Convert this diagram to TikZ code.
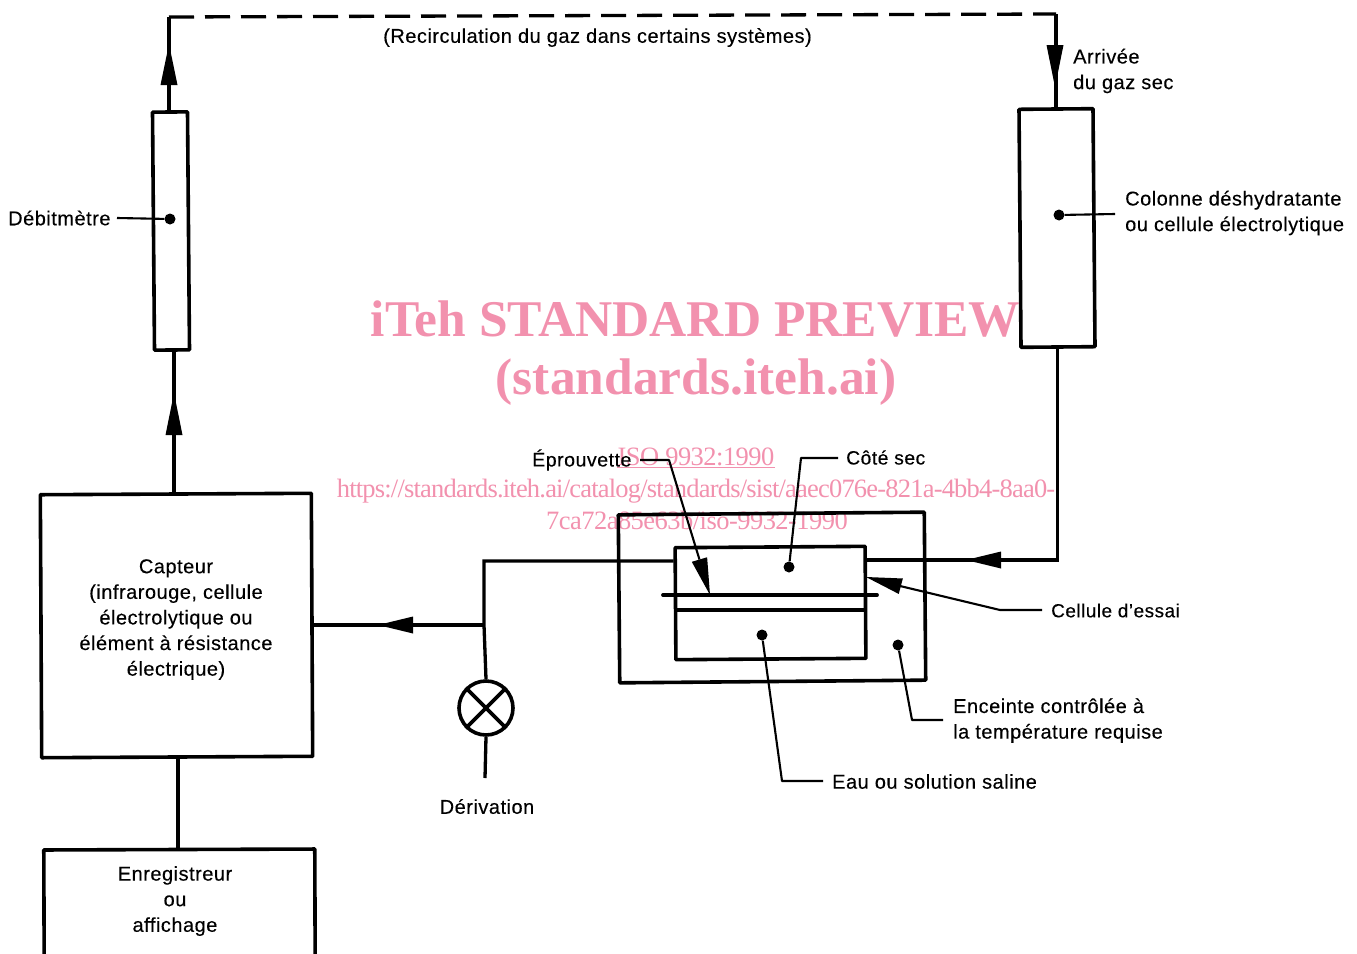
\documentclass[tikz,border=0pt]{standalone}
\usepackage{fontspec}
\setmainfont[LetterSpace=2.5,FakeBold=0.25]{Liberation Sans}
\newfontfamily\wmfont{Liberation Serif}
\newfontfamily\wmtight[LetterSpace=-3]{Liberation Serif}
\newfontfamily\wmloose[LetterSpace=-2]{Liberation Serif}
\usetikzlibrary{arrows.meta}
\definecolor{wmpink}{HTML}{F291AE}
\tikzset{
  x=1pt,y=-1pt,
  vessel/.style={draw=black,line width=3.6pt,rectangle,inner sep=0pt,line join=round},
  pipe/.style={draw=black,line width=3.3pt,line join=miter},
  leader/.style={draw=black,line width=2.1pt,line join=round},
  flow/.style={draw=black,line width=3.3pt,-{Triangle[length=#1,width=17pt,line width=0pt]},shorten >=0pt},
  flow/.default=38pt,
  dot/.style={circle,fill=black,inner sep=0pt,minimum size=11pt},
  lbl/.style={font=\fontsize{20}{25.6}\selectfont,inner sep=0pt,align=left,text=black},
  lblc/.style={font=\fontsize{20}{25.6}\selectfont,inner sep=0pt,align=center,text=black},
  wmb/.style={font=\wmfont\bfseries\fontsize{51.5}{58}\selectfont,text=wmpink,inner sep=0pt},
  wms/.style={font=\wmtight\fontsize{26.5}{30}\selectfont,text=wmpink,inner sep=0pt},
  wmt/.style={font=\wmloose\fontsize{26.5}{30}\selectfont,text=wmpink,inner sep=0pt},
}
\begin{document}
\begin{tikzpicture}
\useasboundingbox (0,0) rectangle (1357,953);
\clip (0,0) rectangle (1357,953);
% watermark
\node[wmb] (wm1) at (695.5,319) {iTeh STANDARD PREVIEW};
\node[wmb] (wm2) at (696,382) {(standards.iteh.ai)};
\node[wmt] (wm3) at (696,457) {ISO 9932:1990};
\draw[wmpink,line width=1.2pt] ([yshift=-2pt]wm3.base west) -- ([yshift=-2pt]wm3.base east);
\node[wms] (wm4) at (696,491) {https://standards.iteh.ai/catalog/standards/sist/aaec076e-821a-4bb4-8aa0-};
\node[wmt] (wm5) at (697,520) {7ca72a85e63b/iso-9932-1990};
% vessels
\node[vessel,minimum width=35pt,minimum height=238pt,rotate=0.48] (debit) at (171,231) {};
\node[vessel,minimum width=74pt,minimum height=238pt,rotate=0.48] (colonne) at (1057,228) {};
\node[vessel,minimum width=271pt,minimum height=263pt,rotate=0.3] (capteur) at (176.5,625.5) {};
\node[vessel,minimum width=271pt,minimum height=125pt,rotate=0.2] (enreg) at (179.5,912) {};
\node[vessel,minimum width=306pt,minimum height=168pt,rotate=0.5] (enceinte) at (772,597.5) {};
\node[vessel,minimum width=190pt,minimum height=112pt,rotate=0.4] (cellule) at (770.5,603) {};
\node[circle,draw=black,line width=3.6pt,minimum size=54pt,inner sep=0pt] (deriv) at (486,708) {};
\draw[line width=3.6pt] (deriv.45) -- (deriv.225) (deriv.135) -- (deriv.315);
% specimen and water level
\coordinate (spL) at (663,595); \coordinate (spR) at (877,595);
\coordinate (wL) at (676,610); \coordinate (wR) at (865,610);
\draw[line width=3.8pt,line cap=round] (spL) -- (spR);
\draw[line width=3.2pt] (wL) -- (wR);
% coordinates
\coordinate (j1) at (484,561);
\coordinate (j2) at (484,625);
\coordinate (derEnd) at (485,778);
\coordinate (tr) at (1057.5,560);
\coordinate (topL) at (169,17);
\coordinate (topR) at (1056,14);
% pipes
\draw[pipe] (cellule.west |- j1) -- (j1) -- (j2) -- (deriv.north);
\draw[pipe] (deriv.south) -- (derEnd);
\draw[pipe] (313,625) coordinate (capE) -- (j2);
\draw[pipe] (1057.5,347) coordinate (colS) -- (tr) -- (865,560) coordinate (celE);
\draw[pipe] (174,493) coordinate (capN) -- (174,350) coordinate (debS);
\draw[pipe] (169,112) coordinate (debN) -- (topL);
\draw[pipe] (178,758) coordinate (capS) -- (178,849) coordinate (enrN);
\draw[line width=3.3pt,dash pattern=on 25pt off 11pt] (topL) -- (topR);
\draw[pipe] (topR) -- (1056,108) coordinate (colN);
% arrowheads
\coordinate (a1b) at (413,625); \coordinate (a1t) at (378,625);
\coordinate (a2b) at (1001,560); \coordinate (a2t) at (966,560);
\coordinate (a3b) at (174,435); \coordinate (a3t) at (174,393);
\coordinate (a4b) at (169,85); \coordinate (a4t) at (169,44);
\coordinate (a5b) at (1055,45); \coordinate (a5t) at (1055,87);
\draw[flow=35pt] (a1b) -- (a1t);
\draw[flow=35pt] (a2b) -- (a2t);
\draw[flow=42pt] (a3b) -- (a3t);
\draw[flow=41pt] (a4b) -- (a4t);
\draw[flow=42pt] (a5b) -- (a5t);
% dots
\node[dot] (dDeb) at (170,219) {};
\node[dot] (dCol) at (1059,215) {};
\node[dot] (dCote) at (789,567) {};
\node[dot] (dEau) at (762,635) {};
\node[dot] (dEnc) at (898,645) {};
% labels
\node[lbl,anchor=center] (tRec) at (597.5,37.5) {(Recirculation du gaz dans certains systèmes)};
\node[lbl,anchor=west] (tArr) at (1073,71) {Arrivée\\du gaz sec};
\node[lbl,anchor=west] (tCol) at (1125,213) {Colonne déshydratante\\ou cellule électrolytique};
\node[lbl,anchor=west] (tDeb) at (8,218) {Débitmètre};
\node[lblc] (tCap) at (176,619.5) {Capteur\\(infrarouge, cellule\\électrolytique ou\\élément à résistance\\électrique)};
\node[lblc] (tEnr) at (175,901) {Enregistreur\\ou\\affichage};
\node[lblc] (tDer) at (487,806.5) {Dérivation};
\node[lbl,anchor=west,font=\fontsize{19.6}{25.6}\selectfont] (tEpr) at (532,460) {Éprouvette};
\node[lbl,anchor=west,font=\fontsize{19.3}{25.6}\selectfont] (tCot) at (846,457.5) {Côté sec};
\node[lbl,anchor=west,font=\fontsize{19}{25.6}\selectfont] (tCel) at (1051,610.5) {Cellule d’essai};
\node[lbl,anchor=west] (tEnc) at (953,720.5) {Enceinte contrôlée à\\la température requise};
\node[lbl,anchor=west] (tEau) at (832,781.5) {Eau ou solution saline};
% leaders
\coordinate (lDeb) at (117,218);
\coordinate (lCol) at (1115,214);
\coordinate (lEpr0) at (640,460); \coordinate (lEpr1) at (669,460);
\coordinate (lEprT) at (710,595); \coordinate (lEprB) at (699,558);
\coordinate (lCot0) at (838,458); \coordinate (lCot1) at (801,458);
\coordinate (lCel0) at (1042,610); \coordinate (lCel1) at (1000,610);
\coordinate (lCelB) at (900,586); \coordinate (lCelT) at (866,577);
\coordinate (lEau1) at (782,781); \coordinate (lEau0) at (823,781);
\coordinate (lEnc1) at (912,720); \coordinate (lEnc0) at (943,720);
\draw[leader] (lDeb) -- (dDeb);
\draw[leader] (dCol) -- (lCol);
\draw[leader] (lEpr0) -- (lEpr1) -- (lEprB);
\draw[line width=2pt,-{Triangle[length=37pt,width=16pt,line width=0pt]}] (lEprB) -- (lEprT);
\draw[leader] (lCot0) -- (lCot1) -- (dCote);
\draw[leader] (lCel0) -- (lCel1) -- (lCelB);
\draw[line width=2pt,-{Triangle[length=36pt,width=16pt,line width=0pt]}] (lCelB) -- (lCelT);
\draw[leader] (dEau) -- (lEau1) -- (lEau0);
\draw[leader] (dEnc) -- (lEnc1) -- (lEnc0);
\end{tikzpicture}
\end{document}
